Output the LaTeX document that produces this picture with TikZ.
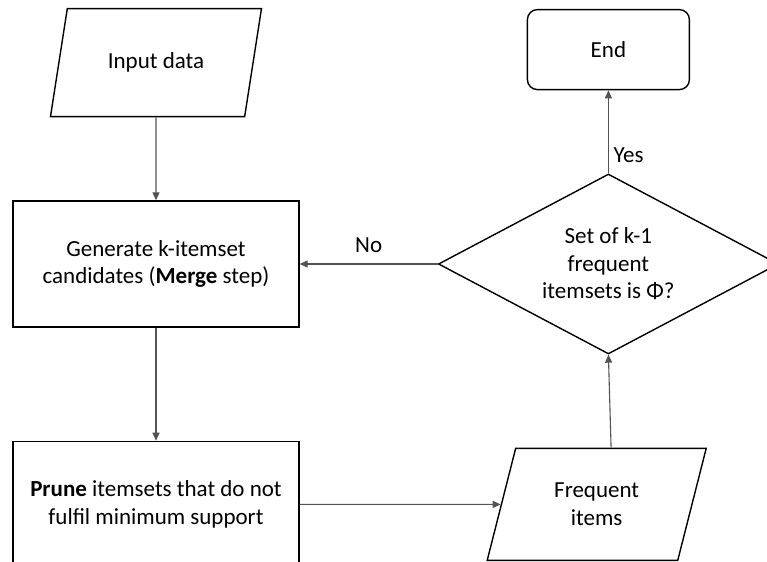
\documentclass[tikz,border=0pt]{standalone}
\usepackage{fontspec}
\setmainfont{Carlito}
\usetikzlibrary{shapes.geometric, arrows.meta, positioning, calc}

\begin{document}
\begin{tikzpicture}[
      every node/.style = {font=\fontsize{11.5}{13.8}\selectfont},
      blk/.style = {
        draw, line width=0.7pt, align=center
      },
      cproc/.style  = {blk, rectangle, minimum width=143pt, minimum height=63pt},
      cio/.style    = {blk, trapezium, trapezium left angle=63,
                       trapezium right angle=117, trapezium stretches body=true},
      cdec/.style   = {blk, diamond, aspect=2, inner sep=0pt,
                       minimum width=170pt, minimum height=90pt},
      cend/.style   = {blk, rectangle, rounded corners=5pt,
                       minimum width=81pt, minimum height=40pt},
      arr/.style = {-{Triangle[length=4pt, width=3.5pt]},
                    line width=0.55pt, gray!65!black},
    ]
    \useasboundingbox (-78pt,132pt) rectangle (305.5pt,-149pt);
    \node[cproc] (gen) at (0,0)
      {Generate k-itemset\\candidates (\textbf{Merge} step)};
    \node[cio, minimum width=105.5pt, minimum height=54pt, above=41.5pt of gen] (input)
      {Input data};
    \node[cproc, below=56.5pt of gen] (prune)
      {\textbf{Prune} itemsets that do not\\fulfil minimum support};
    \node[cio, minimum width=109.5pt, minimum height=56pt, right=100.5pt of prune] (freq)
      {Frequent\\items};
    \node[cdec, right=69pt of gen] (dec)
      {Set of k-1\\frequent\\itemsets is Φ?};
    \node[cend, above=41.5pt of dec] (end)
      {End};
    \draw[arr] (input) -- (gen);
    \draw[arr] (gen) -- (prune);
    \draw[arr] (prune) -- (freq);
    \draw[arr] (freq.top side) -- (dec.south);
    \draw[arr] (dec) -- node[above, black, yshift=2pt] {No} (gen);
    \draw[arr] (dec) -- node[right, black, pos=0.22, xshift=-1pt] {Yes} (end);
    \end{tikzpicture}
\end{document}
